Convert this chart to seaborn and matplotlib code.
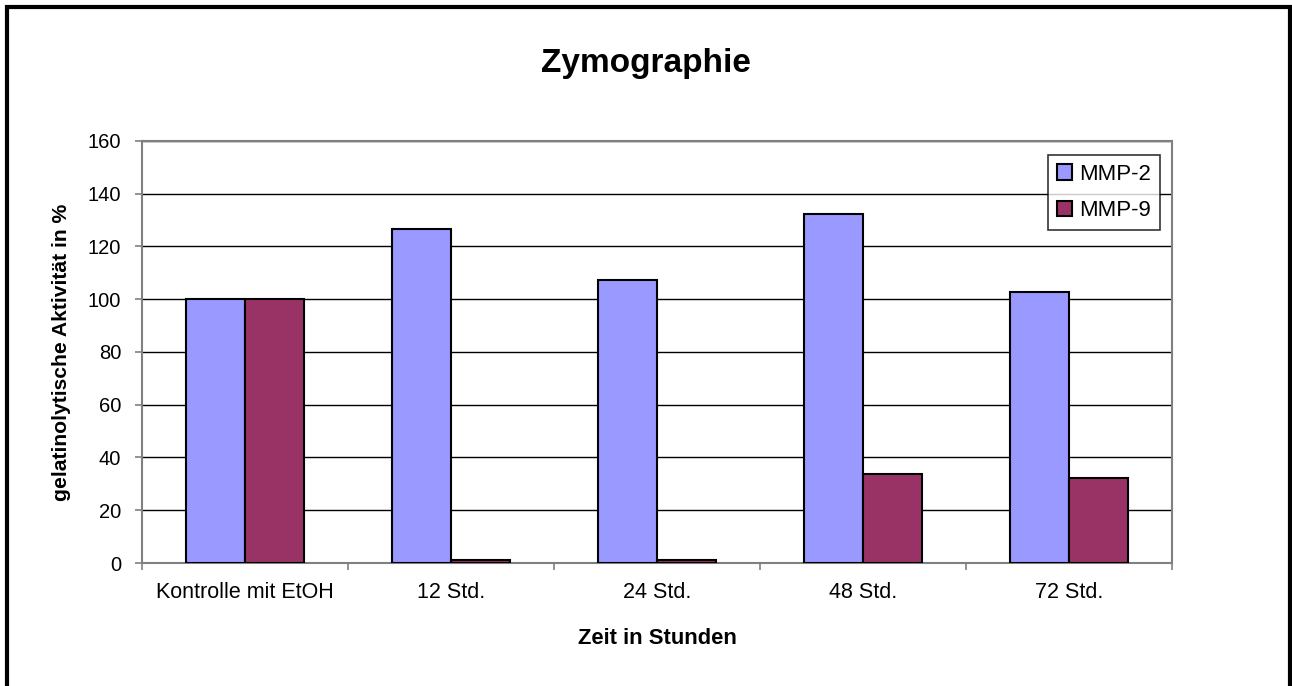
import numpy as np
import pandas as pd
import matplotlib
matplotlib.use("Agg")
import matplotlib.pyplot as plt
import seaborn as sns
from matplotlib.patches import Rectangle

# data
categories = ["Kontrolle mit EtOH", "12 Std.", "24 Std.", "48 Std.", "72 Std."]
mmp2 = [100, 126.5, 107.3, 132.5, 102.8]
mmp9 = [100, 1, 1, 33.6, 32.2]
series = ["MMP-2", "MMP-9"]
colors = ["#9999FF", "#993366"]
y_ticks = [0, 20, 40, 60, 80, 100, 120, 140, 160]

df = pd.DataFrame(
    {
        "Zeit": categories * 2,
        "Wert": mmp2 + mmp9,
        "Serie": [series[0]] * len(categories) + [series[1]] * len(categories),
    }
)

sns.set_theme(style="white")
plt.rcParams["font.family"] = ["Liberation Sans", "DejaVu Sans"]
plt.rcParams["text.color"] = "black"
plt.rcParams["axes.labelcolor"] = "black"
plt.rcParams["xtick.labelcolor"] = "black"
plt.rcParams["ytick.labelcolor"] = "black"

fig = plt.figure(figsize=(12.92, 6.86), dpi=100)
ax = fig.add_axes([0.1099, 0.1793, 0.7972, 0.6152])

sns.barplot(
    data=df,
    x="Zeit",
    y="Wert",
    hue="Serie",
    order=categories,
    hue_order=series,
    palette=colors,
    saturation=1,
    width=0.573,
    gap=0,
    edgecolor="black",
    linewidth=1.5,
    errorbar=None,
    ax=ax,
    zorder=3,
)

ax.set_ylim(0, 160)
ax.set_xlim(-0.5, len(categories) - 0.5)
ax.set_yticks(y_ticks)
ax.yaxis.grid(True, color="black", linewidth=1.0, zorder=0)
ax.set_axisbelow(True)

for side in ["left", "bottom", "top", "right"]:
    ax.spines[side].set_visible(True)
    ax.spines[side].set_color("#808080")
    ax.spines[side].set_linewidth(1.5)

# category boundary ticks on x, no ticks at the labels
ax.set_xticks(np.arange(-0.5, len(categories), 1.0), minor=True)
ax.tick_params(axis="x", which="major", length=0, pad=14, labelsize=15.5)
ax.tick_params(axis="x", which="minor", bottom=True, length=5, width=1.2, color="#808080")
ax.tick_params(axis="y", left=True, length=5, width=1.2, color="#808080", pad=10, labelsize=14.5)

ax.set_xlabel("Zeit in Stunden", fontsize=15.8, fontweight="bold", labelpad=18)
ax.set_ylabel("gelatinolytische Aktivität in %", fontsize=15.2, fontweight="bold", labelpad=12)

fig.text(0.5, 1 - 72 / 686, "Zymographie", ha="center", va="baseline",
         fontsize=24, fontweight="bold")

leg = ax.legend(
    loc="upper left",
    bbox_to_anchor=(0.8796, 0.9667),
    borderaxespad=0,
    frameon=True,
    fancybox=False,
    edgecolor="black",
    fontsize=16,
    handlelength=0.7,
    handleheight=0.7,
    handletextpad=0.3,
    borderpad=0.4,
    labelspacing=0.7,
)
leg.get_frame().set_linewidth(1.2)
leg.set_zorder(5)
for h in leg.legend_handles:
    h.set_edgecolor("black")
    h.set_linewidth(1.5)

# outer frame of the chart area (bottom edge lies outside the picture)
fig.patches.append(
    Rectangle((0.0054, -0.1), 0.9931, 1.0905, transform=fig.transFigure,
              fill=False, edgecolor="black", linewidth=3)
)

fig.savefig("out.png", dpi=100)
